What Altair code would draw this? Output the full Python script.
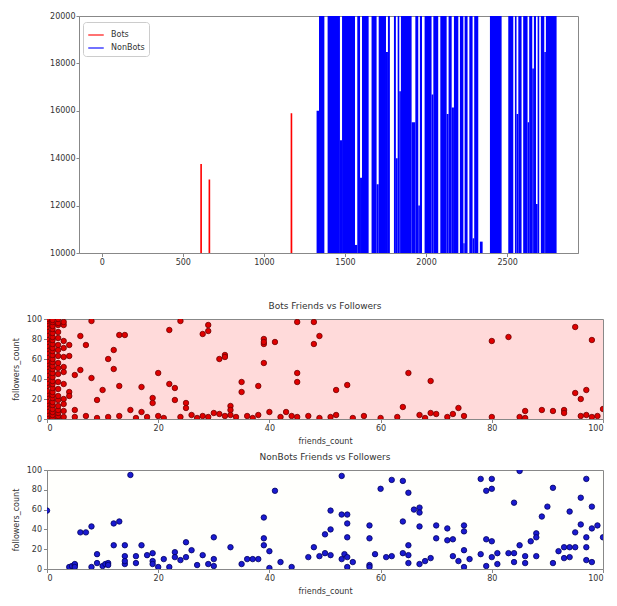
import altair as alt
import pandas as pd

# ---------------- Top panel: followers_count by account index ----------------
bot_index = [0, 612, 613, 614, 663, 664, 665, 1169, 1170, 1171, 1321]
bot_followers = [250, 300, 13750, 400, 350, 13100, 280, 500, 15900, 450, 300]

# NonBots: (first index, last index, highest value reached inside 10000-20000 window)
F = 30000  # beyond the top of the window
nb_bands = [
    (1325, 1340, 16000), (1340, 1373, F), (1393, 1469, F), (1469, 1482, 14760),
    (1482, 1562, F), (1562, 1576, 10340), (1576, 1593, F), (1593, 1605, 13170),
    (1605, 1646, F), (1664, 1695, F), (1695, 1708, 12900), (1708, 1753, F),
    (1753, 1765, 18480), (1765, 1777, F), (1802, 1814, F), (1814, 1825, 14000),
    (1825, 1835, F), (1835, 1845, 16830), (1845, 1911, F), (1911, 1934, 15520),
    (1934, 1952, F), (1952, 1962, 12000), (1962, 1975, F), (1991, 2034, F),
    (2034, 2045, 16690), (2045, 2075, F), (2088, 2127, F), (2127, 2139, 15860),
    (2139, 2158, F), (2158, 2172, 16140), (2172, 2199, F), (2209, 2230, F),
    (2230, 2238, 10410), (2238, 2256, F), (2267, 2287, F), (2287, 2297, 10620),
    (2297, 2322, F), (2332, 2349, 10480), (2394, 2466, F), (2507, 2538, F),
    (2548, 2558, F), (2558, 2569, 15860), (2569, 2589, F), (2599, 2626, F),
    (2626, 2636, 15520), (2636, 2655, F), (2655, 2665, 17790), (2665, 2678, F),
    (2678, 2688, 12070), (2688, 2698, F), (2708, 2729, F), (2729, 2739, 18480),
    (2739, 2805, F),
]
nb_start = [b[0] for b in nb_bands]
nb_end = [b[1] for b in nb_bands]
nb_top = [b[2] for b in nb_bands]

# ---------------- Bots friends vs followers ----------------
bots_col0 = [0, 2, 5, 8, 12, 15, 18, 22, 25, 28, 33, 36, 40, 44, 48, 52, 55, 58, 62, 66,
             70, 73, 77, 80, 84, 88, 92, 95, 98, 100]
bots_col1 = [1, 4, 7, 10, 14, 17, 21, 24, 27, 31, 35, 38, 42, 46, 50, 53, 57, 60, 64, 68,
             71, 75, 79, 82, 86, 90, 93, 97, 99]
bots_col2 = [0, 3, 6, 9, 13, 19, 23, 30, 37, 45, 51, 56, 63, 69, 74, 81, 87, 94, 96, 100]
bots_col3 = [2, 8, 15, 20, 35, 47, 52, 62, 71, 78, 94, 97]
bots_other = [
    (4, 74), (4, 63), (4, 27), (4, 23), (5, 9), (5, 44), (6, 83), (6, 49), (7, 74), (8, 98),
    (8, 41), (9, 19), (10, 29), (11, 60), (12, 69), (12, 50), (13, 84), (13, 33), (14, 84),
    (15, 9), (17, 32), (17, 7), (19, 21), (19, 16), (20, 46), (22, 89), (22, 35), (23, 31),
    (23, 19), (24, 98), (25, 16), (25, 11), (28, 85), (29, 94), (29, 88), (31, 60), (32, 64),
    (32, 62), (33, 13), (33, 9), (35, 27), (35, 37), (38, 33), (39, 56), (39, 80), (39, 75),
    (39, 77), (41, 77), (45, 46), (45, 37), (45, 97), (48, 97), (48, 75), (49, 83), (52, 29),
    (54, 34), (64, 12), (65, 46), (69, 38), (73, 5), (74, 11), (80, 78), (83, 82), (86, 8),
    (89, 9), (91, 8), (93, 9), (93, 6), (95, 92), (95, 26), (96, 20), (97, 29), (98, 79),
    (100, 10),
    (5, 2), (7, 3), (9, 1), (11, 2), (13, 3), (16, 1), (18, 2), (20, 3), (21, 1), (24, 2),
    (26, 4), (27, 1), (28, 3), (29, 2), (30, 6), (31, 5), (32, 3), (33, 4), (34, 2),
    (36, 3), (37, 1), (38, 4), (40, 7), (42, 2), (43, 7), (44, 3), (45, 2), (47, 3), (49, 1),
    (51, 2), (52, 4), (55, 1), (57, 3), (60, 1), (63, 2), (67, 4), (68, 1), (69, 6), (70, 5),
    (72, 2), (75, 3), (80, 2), (85, 2), (86, 1), (96, 3), (97, 4), (98, 2), (99, 3),
]
bots_friends = ([0] * len(bots_col0) + [1] * len(bots_col1) + [2] * len(bots_col2)
                + [3] * len(bots_col3) + [p[0] for p in bots_other])
bots_followers = bots_col0 + bots_col1 + bots_col2 + bots_col3 + [p[1] for p in bots_other]

# ---------------- NonBots friends vs followers ----------------
nonbots_points = [
    (0, 59), (4, 2), (4.5, 3), (5, 4), (5, 5), (5, 2), (6, 37), (7, 37), (8, 43), (9, 15),
    (9, 6), (8, 2), (10, 3), (10.5, 5), (11, 6), (11, 4), (12, 24), (12, 46), (13, 48),
    (15, 95), (14, 24), (14, 13), (14, 5), (14, 8), (16, 13), (16, 6), (17, 24), (18, 14),
    (19, 16), (19, 8), (19, 5), (20, 2), (21, 10), (22, 2), (23, 17), (23, 12), (24, 9),
    (25, 12), (25, 27), (26, 19), (27, 4), (28, 14), (29, 5), (30, 3), (30, 32), (30, 10),
    (33, 22), (35, 5), (36, 10), (37, 10), (38, 10), (39, 52), (39, 31), (39, 24), (40, 18),
    (40, 1), (41, 79), (42, 7), (44, 2), (47, 12), (48, 22), (50, 35), (51, 40), (51, 59),
    (49, 13), (50, 16), (51, 14), (53, 94), (53, 55), (54, 55), (54, 46), (54, 32), (53, 10),
    (53.5, 15), (54, 12), (55, 7), (54, 2), (58, 44), (58, 31), (58, 4), (58, 2), (59, 15),
    (60, 81), (61, 12), (62, 13), (62, 90), (64, 89), (64, 48), (64, 16), (65, 14), (65, 77),
    (65, 24), (65, 6), (66, 60), (67, 62), (67, 57), (67, 43), (67, 5), (68, 8), (69, 11),
    (70, 44), (70, 31), (72, 41), (72, 29), (73, 30), (73, 13), (74, 8), (75, 44), (75, 38),
    (75, 19), (75, 2), (76, 10), (78, 91), (78, 15), (79, 79), (79, 30), (79, 3), (80, 91),
    (80, 81), (80, 28), (80, 12), (81, 16), (81, 5), (83, 16), (84, 16), (84, 7), (84, 67),
    (85, 24), (85, 99), (86, 13), (86, 6), (87, 28), (88, 36), (88, 32), (88, 13), (89, 53),
    (90, 63), (91, 82), (91, 6), (92, 18), (93, 11), (94, 12), (93, 22), (94, 22), (95, 22),
    (94, 58), (95, 37), (96, 72), (96, 45), (97, 91), (97, 32), (97, 22), (97, 9), (98, 7),
    (98, 63), (98, 41), (99, 44), (100, 32),
]
nonbots_friends = [p[0] for p in nonbots_points]
nonbots_followers = [p[1] for p in nonbots_points]

FONT = "DejaVu Sans"
TXT = "#333333"
FRAME = "#888888"
TOP_H = 237

top_bots = pd.DataFrame({"index": bot_index, "followers": bot_followers, "series": "Bots"})
top_nb = pd.DataFrame({"start": nb_start, "end": nb_end, "top": nb_top, "series": "NonBots"})

xs_top = alt.Scale(domain=[-140, 2937], nice=False, zero=False)
ys_top = alt.Scale(domain=[10000, 20000], nice=False, zero=False)
color = alt.Color(
    "series:N",
    title=None,
    scale=alt.Scale(domain=["Bots", "NonBots"], range=["#ff0000", "#0000ff"]),
    legend=alt.Legend(
        orient="none", legendX=36, legendY=6, symbolType="stroke", symbolSize=240,
        symbolStrokeWidth=2, symbolOpacity=0.55, labelFontSize=8, labelFont=FONT,
        labelColor=TXT, strokeColor="#cccccc", fillColor="white", padding=4,
        cornerRadius=3, rowPadding=0, labelOffset=6,
    ),
)

# the x-axis title is invisible: it only reserves the gap below the top panel
x_top_axis = alt.Axis(values=[0, 500, 1000, 1500, 2000, 2500], grid=False, title="index",
                      titleOpacity=0, titlePadding=20, tickSize=3.5, labelPadding=2,
                      format="d")
y_top_axis = alt.Axis(values=[10000, 12000, 14000, 16000, 18000, 20000], grid=False,
                      title=None, tickSize=3, labelPadding=1, format="d")

nb_layer = alt.Chart(top_nb).mark_rect(clip=True).encode(
    x=alt.X("start:Q", scale=xs_top, axis=x_top_axis),
    x2="end:Q",
    y=alt.Y("top:Q", scale=ys_top, axis=y_top_axis),
    y2=alt.datum(0),
    color=color,
)
bots_layer = alt.Chart(top_bots).mark_line(clip=True, strokeWidth=1.6).encode(
    x=alt.X("index:Q", scale=xs_top, axis=x_top_axis),
    y=alt.Y("followers:Q", scale=ys_top, axis=y_top_axis),
    color=color,
)
top = alt.layer(nb_layer, bots_layer).properties(
    width=499, height=TOP_H, view=alt.ViewBackground(stroke=FRAME, fill="white")
)

# empty, invisible spacer that shifts the top panel to the right of the lower panels
spacer = alt.Chart(pd.DataFrame({"v": pd.Series([], dtype=float)})).mark_point().encode(
    x=alt.value(0), y=alt.value(0)
).properties(width=1, height=TOP_H,
             view=alt.ViewBackground(stroke="transparent", fill="transparent"))

axis_vals = [0, 20, 40, 60, 80, 100]
sc = alt.Scale(domain=[0, 100], nice=False)


def scatter(df_x, df_y, fill, edge, bg, title, h):
    df = pd.DataFrame({"friends_count": df_x, "followers_count": df_y})
    return alt.Chart(df).mark_point(
        filled=True, size=30, opacity=1, fill=fill, stroke=edge, strokeWidth=0.8,
        clip=True,
    ).encode(
        x=alt.X("friends_count:Q", scale=sc,
                axis=alt.Axis(values=axis_vals, grid=False, title="friends_count",
                              tickSize=3.5, labelPadding=2, titlePadding=5)),
        y=alt.Y("followers_count:Q", scale=sc,
                axis=alt.Axis(values=axis_vals, grid=False, title="followers_count",
                              tickSize=3.5, labelPadding=2, titlePadding=6)),
    ).properties(
        width=556, height=h,
        title=alt.TitleParams(title, fontSize=9, fontWeight="normal", font=FONT,
                              color=TXT, offset=4),
        view=alt.ViewBackground(stroke=FRAME, fill=bg),
    )


mid = scatter(bots_friends, bots_followers, "#e00000", "#700000", "#ffdada",
              "Bots Friends vs Followers", 100)
bot = scatter(nonbots_friends, nonbots_followers, "#1a1ad0", "#000060", "#fffffc",
              "NonBots Friends vs Followers", 99)

top_row = alt.hconcat(spacer, top, spacing=0)

chart = alt.vconcat(top_row, mid, bot, spacing=6).properties(
    padding={"left": 3, "top": 3, "right": 0, "bottom": 0},
).configure_axis(
    labelFont=FONT, titleFont=FONT, labelFontSize=8, titleFontSize=8,
    labelColor=TXT, titleColor=TXT, titleFontWeight="normal",
    domainColor=FRAME, tickColor=FRAME,
).configure_view(stroke=FRAME)

chart.save("out.html", embed_options={"renderer": "svg", "actions": False})
